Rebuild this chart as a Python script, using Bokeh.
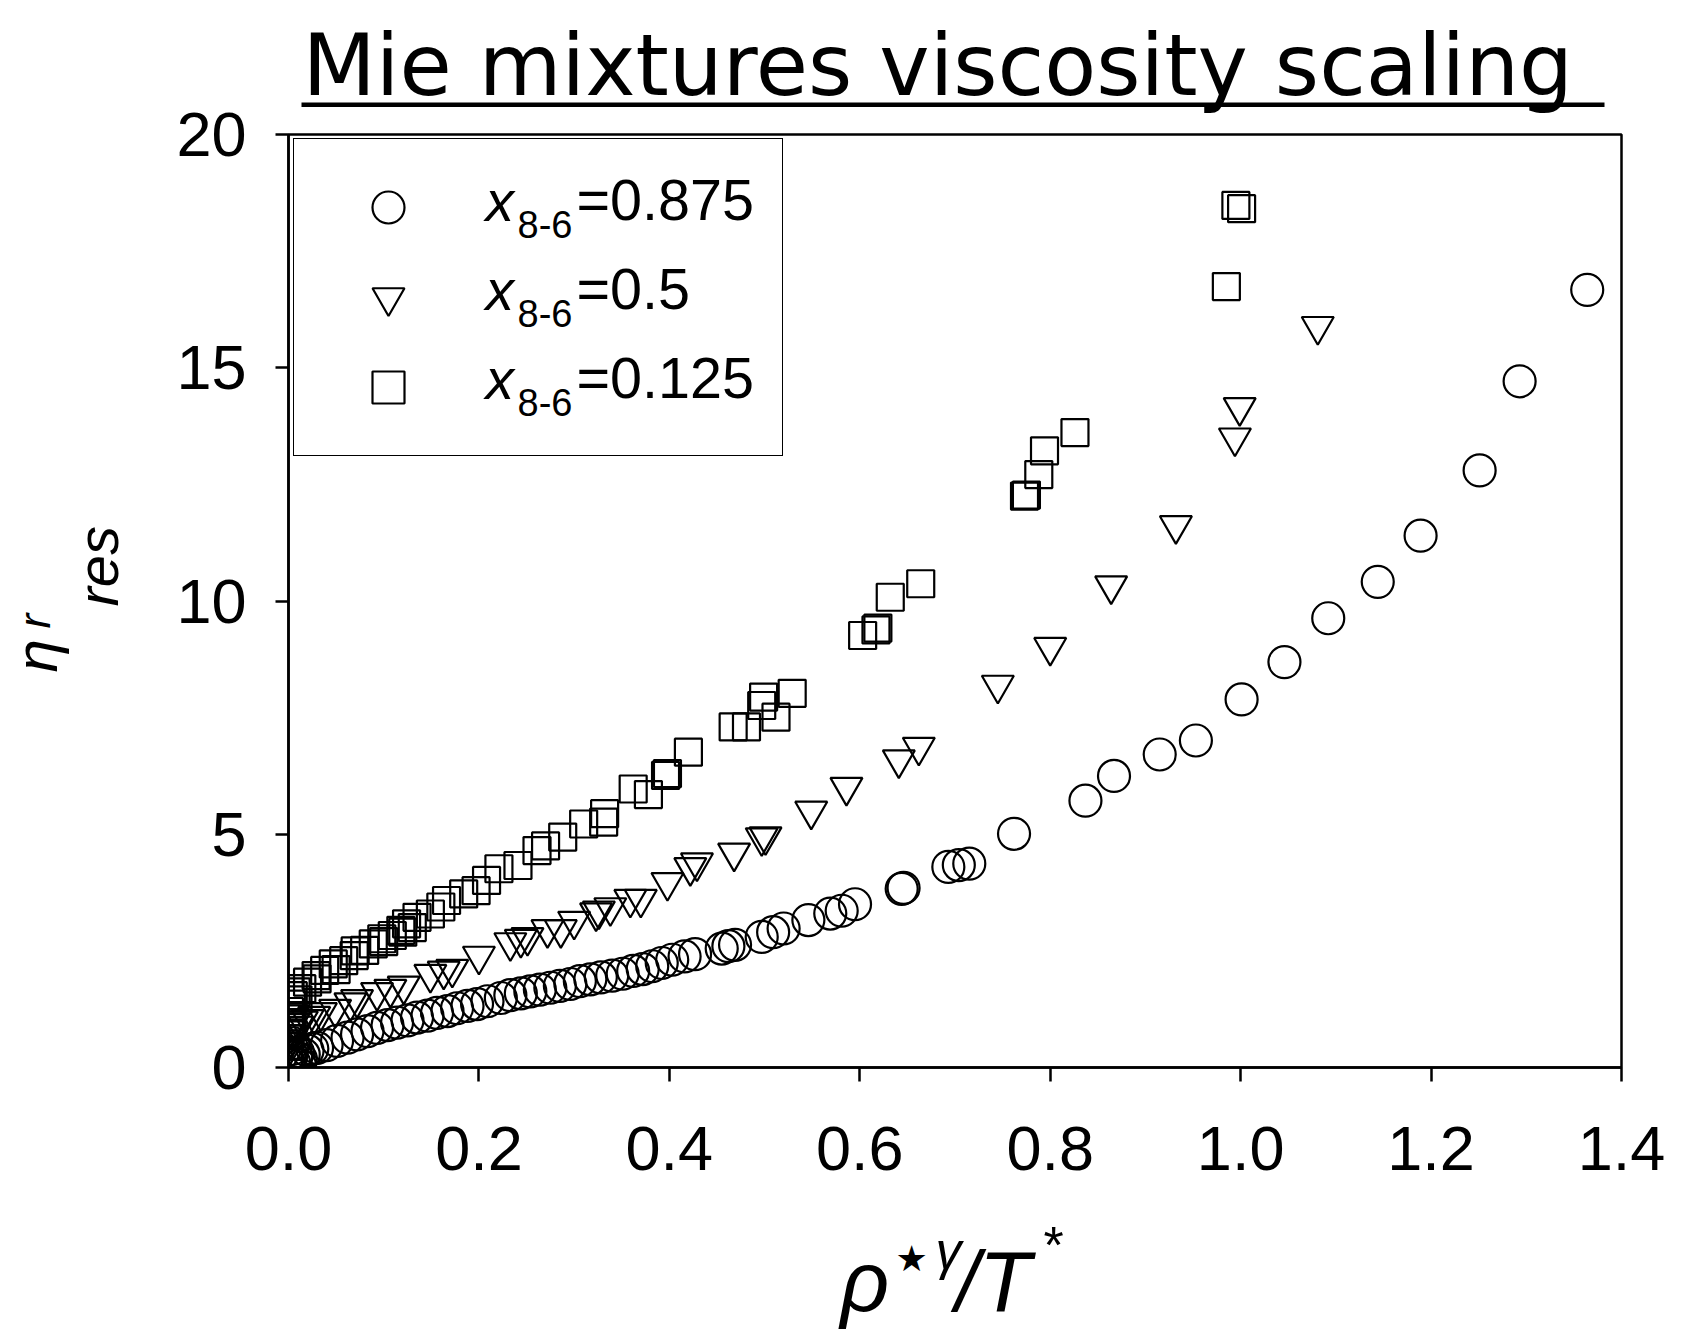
from bokeh.plotting import figure
from bokeh.layouts import column, row
from bokeh.models import (Range1d, FixedTicker, PrintfTickFormatter, Label,
                          BoxAnnotation, Legend, LegendItem)
from bokeh.embed import file_html
from bokeh.resources import INLINE

# ---------------- data ----------------
x_ticks = [0.0, 0.2, 0.4, 0.6, 0.8, 1.0, 1.2, 1.4]
y_ticks = [0, 5, 10, 15, 20]

series_labels = ["0.875", "0.5", "0.125"]

x_875 = [0.000, 0.001, 0.002, 0.003, 0.004, 0.005, 0.006, 0.008, 0.010, 0.012, 0.013,
         0.016, 0.020, 0.025,
         0.030, 0.040, 0.051, 0.062, 0.072, 0.083, 0.093, 0.104, 0.114, 0.125, 0.135,
         0.146, 0.156, 0.167, 0.177, 0.188, 0.198, 0.209, 0.223, 0.233, 0.244, 0.254,
         0.264, 0.275, 0.285, 0.296, 0.306, 0.317, 0.328, 0.340, 0.351, 0.362, 0.372,
         0.382, 0.392, 0.403, 0.416, 0.427, 0.455, 0.462, 0.469, 0.497, 0.509, 0.520,
         0.546, 0.569, 0.581, 0.595, 0.644, 0.646, 0.693, 0.704, 0.715, 0.762, 0.837,
         0.867, 0.915, 0.953, 1.001, 1.046, 1.092, 1.144, 1.189, 1.251, 1.293, 1.364]
y_875 = [0.10, 0.05, 0.15, 0.28, 0.40, 0.52, 0.10, 0.22, 0.32, 0.05, 0.18,
         0.28, 0.36, 0.40,
         0.42, 0.48, 0.57, 0.64, 0.71, 0.78, 0.85, 0.91, 0.96, 1.01, 1.07,
         1.11, 1.17, 1.21, 1.27, 1.32, 1.36, 1.42, 1.49, 1.55, 1.59, 1.63,
         1.67, 1.71, 1.75, 1.79, 1.85, 1.89, 1.93, 1.97, 2.01, 2.07, 2.11,
         2.17, 2.24, 2.31, 2.38, 2.43, 2.55, 2.60, 2.63, 2.80, 2.90, 2.98,
         3.16, 3.30, 3.36, 3.50, 3.83, 3.85, 4.30, 4.34, 4.37, 5.01, 5.72,
         6.25, 6.71, 7.01, 7.89, 8.69, 9.63, 10.41, 11.40, 12.80, 14.71, 16.67]

x_500 = [0.000, 0.000, 0.001, 0.002, 0.002, 0.003, 0.005, 0.008, 0.009, 0.014, 0.020,
         0.027, 0.034, 0.049,
         0.065, 0.072, 0.093, 0.107, 0.121, 0.149, 0.163, 0.172, 0.200, 0.233, 0.244,
         0.251, 0.272, 0.286, 0.300, 0.323, 0.326, 0.338, 0.359, 0.370, 0.398, 0.422,
         0.429, 0.468, 0.497, 0.501, 0.549, 0.586, 0.641, 0.662, 0.745, 0.800, 0.864,
         0.932, 0.994, 0.999, 1.081]
y_500 = [0.40, 0.25, 0.55, 0.70, 0.82, 0.60, 0.95, 1.05, 0.89, 1.00, 1.03,
         1.10, 1.18, 1.25,
         1.39, 1.46, 1.61, 1.68, 1.75, 2.00, 2.07, 2.11, 2.39, 2.68, 2.75,
         2.79, 2.96, 2.96, 3.14, 3.32, 3.36, 3.43, 3.61, 3.61, 3.97, 4.29,
         4.39, 4.60, 4.93, 4.95, 5.50, 6.01, 6.60, 6.87, 8.20, 9.01, 10.33,
         11.62, 13.50, 14.15, 15.89]

x_125 = [0.000, 0.000, 0.001, 0.001, 0.002, 0.003, 0.003, 0.004, 0.005, 0.008, 0.010,
         0.014, 0.020, 0.029, 0.030,
         0.038, 0.047, 0.050, 0.058, 0.069, 0.070, 0.080, 0.089, 0.098, 0.100, 0.109,
         0.118, 0.120, 0.124, 0.130, 0.135, 0.149, 0.160, 0.166, 0.184, 0.197, 0.208,
         0.221, 0.241, 0.261, 0.270, 0.288, 0.310, 0.331, 0.332, 0.362, 0.378, 0.396,
         0.398, 0.420, 0.467, 0.481, 0.497, 0.499, 0.512, 0.529, 0.603, 0.617, 0.619,
         0.632, 0.664, 0.773, 0.775, 0.788, 0.794, 0.826, 0.985, 0.995, 1.001]
y_125 = [0.45, 0.30, 0.70, 1.20, 0.86, 1.08, 1.36, 0.95, 1.54, 1.62, 1.45,
         1.69, 1.83, 1.97, 1.90,
         2.08, 2.22, 2.10, 2.29, 2.40, 2.50, 2.51, 2.65, 2.76, 2.70, 2.83,
         2.94, 2.90, 3.08, 3.00, 3.22, 3.29, 3.44, 3.58, 3.72, 3.79, 4.01,
         4.26, 4.33, 4.65, 4.75, 4.94, 5.22, 5.26, 5.44, 5.97, 5.85, 6.26,
         6.30, 6.76, 7.30, 7.30, 7.76, 7.94, 7.51, 8.02, 9.26, 9.38, 9.42,
         10.08, 10.37, 12.25, 12.27, 12.71, 13.22, 13.61, 16.74, 18.48, 18.41]

# ---------------- layout geometry (page pixels) ----------------
TOTAL_W = 1674
UPPER_H = 1110                # upper block: y-title, y tick labels, title + plot
YT_W = 150                    # y-title strip width
YL_W = 110                    # y tick-label strip width
RIGHT_X = YT_W + YL_W         # left edge of the title strip / main plot (260)
TITLE_H = 125
XL_H = 90                     # x tick-label strip (1110..1200)
XT_TOP = UPPER_H + XL_H       # x-title strip top (1200)
XT_H = 130
FX0, FY0 = 288, 1067          # main frame bottom-left (page pixels)
FTOP, FRIGHT = 134, 1621
MID = 0.35                    # text box centre sits this many em above the baseline
TICK_FONT = "63px"


def page_fig(w, h, left, right, top, bottom, b_left, b_right, b_top, b_bottom):
    """Helper figure whose data coordinates are page pixels (x, -y); its frame is
    given by the borders (which match the borders the layout aligns it to)."""
    f = figure(width=w, height=h, x_range=Range1d(left, right), y_range=Range1d(-bottom, -top),
               x_axis_type=None, y_axis_type=None, output_backend="svg",
               toolbar_location=None, min_border_left=b_left, min_border_right=b_right,
               min_border_top=b_top, min_border_bottom=b_bottom)
    f.grid.visible = False
    f.outline_line_color = None
    f.background_fill_color = "white"
    f.border_fill_color = "white"
    return f


def flab(f, text, px, py, size, font="Liberation Sans", style="normal"):
    """Horizontal text; (px, py) = left end of the baseline in page pixels."""
    f.add_layout(Label(x=px, y=-(py - MID * size), text=text,
                       text_font=font, text_font_size=f"{size}px", text_font_style=style,
                       text_align="left", text_baseline="middle", text_color="black"))


def vlab(f, text, bx, sy, size, style="italic"):
    """Text rotated to read upwards; bx = baseline x, sy = page y where the text starts."""
    f.add_layout(Label(x=bx - MID * size, y=-sy, text=text,
                       text_font="Liberation Sans", text_font_size=f"{size}px",
                       text_font_style=style, text_align="left",
                       text_baseline="middle", angle=1.5707963, text_color="black"))


def style_labels(ax, standoff):
    ax.major_label_text_font = "Liberation Sans"
    ax.major_label_text_font_size = TICK_FONT
    ax.major_label_text_color = "black"
    ax.major_label_standoff = standoff
    ax.axis_line_color = None
    ax.major_tick_line_color = None
    ax.minor_tick_line_color = None
    ax.major_tick_in = 0
    ax.major_tick_out = 0


# ---- title strip (x 260..1674, y 0..125); frame aligned with the main plot's ----
tfig = page_fig(TOTAL_W - RIGHT_X, TITLE_H, FX0, FRIGHT, 0, TITLE_H,
                FX0 - RIGHT_X, TOTAL_W - FRIGHT, 0, 0)
flab(tfig, "Mie mixtures viscosity scaling", 302, 95, 85, font="DejaVu Sans")
tfig.add_layout(BoxAnnotation(left=301, right=1604, bottom=-106.5, top=-102,
                              fill_color="black", fill_alpha=1.0, line_color=None))

# ---- y-axis title strip (x 0..150); frame aligned vertically with the plot frame ----
yfig = page_fig(YT_W, UPPER_H, 0, YT_W, FTOP, FY0, 0, 0, FTOP, UPPER_H - FY0)
vlab(yfig, "η", 57, 672, 60)
vlab(yfig, "r", 49, 628, 44)
vlab(yfig, "res", 117, 606, 58)

# ---- y tick-label strip (x 150..260) ----
ylf = figure(width=YL_W, height=UPPER_H, x_range=Range1d(0, 1), y_range=Range1d(0, 20),
             x_axis_type=None, output_backend="svg", toolbar_location=None,
             min_border_left=YL_W - 5, min_border_right=0,
             min_border_top=FTOP, min_border_bottom=UPPER_H - FY0)
ylf.grid.visible = False
ylf.outline_line_color = None
ylf.background_fill_color = "white"
ylf.border_fill_color = "white"
ylf.yaxis.ticker = FixedTicker(ticks=y_ticks)
style_labels(ylf.yaxis[0], 9)

# ---- x tick-label strip (x 0..1674, y 1110..1200) ----
xlf = figure(width=TOTAL_W, height=XL_H, x_range=Range1d(0, 1.4), y_range=Range1d(0, 1),
             y_axis_type=None, output_backend="svg", toolbar_location=None,
             min_border_left=FX0, min_border_right=TOTAL_W - FRIGHT,
             min_border_top=0, min_border_bottom=XL_H - 4)
xlf.grid.visible = False
xlf.outline_line_color = None
xlf.background_fill_color = "white"
xlf.border_fill_color = "white"
xlf.xaxis.ticker = FixedTicker(ticks=x_ticks)
xlf.xaxis.formatter = PrintfTickFormatter(format="%.1f")
style_labels(xlf.xaxis[0], 12)

# ---- x-axis title strip (y 1200..1330); frame aligned with the tick-label strip ----
xfig = page_fig(TOTAL_W, XT_H, FX0, FRIGHT, XT_TOP, XT_TOP + XT_H,
                FX0, TOTAL_W - FRIGHT, 0, 0)
flab(xfig, "ρ", 840, 1311, 85, style="italic")
flab(xfig, "★", 895, 1271, 36, font="DejaVu Sans")
flab(xfig, "γ", 935, 1269, 52, style="italic")
flab(xfig, "/T", 955, 1311, 85, style="italic")
flab(xfig, "*", 1043, 1263, 52)

# ---- main plot (x 260..1674, y 125..1110) ----
MAIN_W = TOTAL_W - RIGHT_X
MAIN_H = UPPER_H - TITLE_H
p = figure(width=MAIN_W, height=MAIN_H, x_range=Range1d(0, 1.4), y_range=Range1d(0, 20),
           output_backend="svg", toolbar_location=None,
           min_border_left=FX0 - RIGHT_X, min_border_right=TOTAL_W - FRIGHT,
           min_border_top=FTOP - TITLE_H, min_border_bottom=UPPER_H - FY0)
p.grid.visible = False
p.outline_line_color = "black"
p.outline_line_width = 2.5
p.background_fill_color = "white"
p.border_fill_color = "white"

p.xaxis.ticker = FixedTicker(ticks=x_ticks)
p.yaxis.ticker = FixedTicker(ticks=y_ticks)
for ax in (p.xaxis[0], p.yaxis[0]):
    ax.axis_line_width = 2.5
    ax.axis_line_color = "black"
    ax.major_tick_line_width = 2.5
    ax.major_tick_line_color = "black"
    ax.major_tick_in = 0
    ax.minor_tick_line_color = None
    # tick labels are drawn by the label strips beside the plot
    ax.major_label_text_color = None
    ax.major_label_text_font_size = "1px"
    ax.major_label_standoff = 0
p.xaxis.major_tick_out = 14
p.yaxis.major_tick_out = 13

mk = dict(fill_color=None, line_color="black", line_width=2.2)
r1 = p.scatter(x_875, y_875, marker="circle", size=32, **mk)
r2 = p.scatter(x_500, y_500, marker="inverted_triangle", size=32, **mk)
r3 = p.scatter(x_125, y_125, marker="square", size=27, **mk)

leg = Legend(items=[LegendItem(label=" ", renderers=[r]) for r in (r1, r2, r3)],
             location=(5, 611), orientation="vertical", padding=28, spacing=10,
             glyph_width=132, glyph_height=80, label_width=300, label_standoff=0,
             label_height=20, margin=0, border_line_color="black",
             border_line_width=1.3, border_line_alpha=1.0,
             background_fill_alpha=0.0, label_text_font_size="10px")
p.add_layout(leg)


def lab(text, px, py, size, style="normal"):
    p.add_layout(Label(x=px - FX0, y=FY0 - (py - MID * size), x_units="screen", y_units="screen",
                       text=text, text_font="Liberation Sans", text_font_size=f"{size}px",
                       text_font_style=style, text_align="left",
                       text_baseline="middle", text_color="black"))


# legend texts
for i, s in enumerate(series_labels):
    base = 220 + 89 * i
    lab("x", 485, base, 57, style="italic")
    lab("8-6", 517, base + 17, 38)
    lab("=" + s, 576, base, 57.5)

layout = column(row(yfig, ylf, column(tfig, p)), xlf, xfig)
open("out.html", "w").write(file_html(layout, INLINE))
